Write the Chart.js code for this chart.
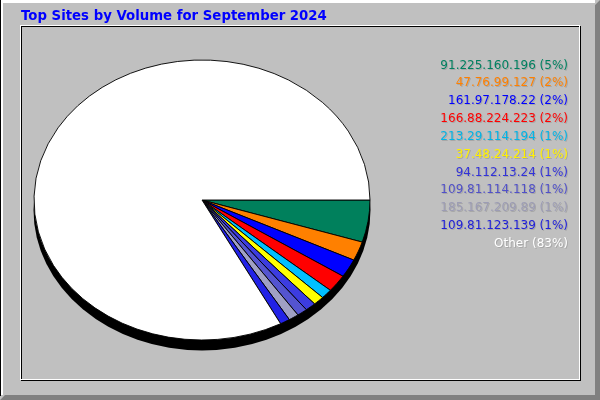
<!DOCTYPE html>
<html><head><meta charset="utf-8">
<script src="https://cdn.jsdelivr.net/npm/chart.js@4/dist/chart.umd.min.js"></script>
<style>html,body{margin:0;padding:0;background:#c0c0c0}canvas{display:block}</style>
</head><body>
<canvas id="c" width="600" height="400"></canvas>
<script>
const titleText = "Top Sites by Volume for September 2024";
const sites = ["91.225.160.196","47.76.99.127","161.97.178.22","166.88.224.223","213.29.114.194","37.48.24.214","94.112.13.24","109.81.114.118","185.167.209.89","109.81.123.139","Other"];
const volumes = [4.86, 2.2, 2.1, 2.0, 1.1, 1.05, 1.02, 1.0, 0.97, 0.95, 82.75];
const percentLabels = ["5%","2%","2%","2%","1%","1%","1%","1%","1%","1%","83%"];
const sliceColors = ["#00805C","#FF8000","#0000FF","#FF0000","#00C0FF","#FFFF00","#3C3CE0","#5454D0","#A0A0C4","#2222E6","#FFFFFF"];
const textColors = ["#008060","#FF8000","#0000FF","#FF0000","#00B4E6","#FFF000","#3232D8","#5050C8","#9C9CB4","#2020D8","#FFFFFF"];

const ELLIPSE_RATIO = 140/168;
const DEPTH = 10;

const framePlugin = {
  id: 'frame',
  beforeDraw(chart) {
    const ctx = chart.ctx;
    const W = chart.width, H = chart.height;
    ctx.save();
    ctx.fillStyle = '#C0C0C0';
    ctx.fillRect(0, 0, W, H);
    ctx.fillStyle = '#808080';
    ctx.beginPath();
    ctx.moveTo(W, 0); ctx.lineTo(W, H); ctx.lineTo(0, H);
    ctx.lineTo(5, H - 5); ctx.lineTo(W - 5, H - 5); ctx.lineTo(W - 5, 5);
    ctx.closePath(); ctx.fill();
    ctx.fillStyle = '#FFFFFF';
    ctx.fillRect(0, 0, W - 5, 3);
    ctx.fillRect(0, 0, 3, H - 5);
    ctx.fillStyle = '#000000';
    ctx.fillRect(0, 0, 1, H - 4);
    ctx.lineWidth = 1;
    ctx.strokeStyle = '#000000';
    ctx.strokeRect(21.5, 26.5, 559, 354);
    ctx.strokeStyle = '#FFFFFF';
    ctx.strokeRect(20.5, 25.5, 559, 354);
    ctx.fillStyle = '#0000FF';
    ctx.font = 'bold 13.3px "DejaVu Sans"';
    ctx.textBaseline = 'alphabetic';
    ctx.textAlign = 'left';
    ctx.fillText(titleText, 21, 19.5);
    ctx.restore();
  }
};

const ellipsePlugin = {
  id: 'ellipse',
  beforeDatasetsDraw(chart) {
    const ctx = chart.ctx;
    const arc = chart.getDatasetMeta(0).data[0];
    const cx = arc.x, cy = arc.y, r = arc.outerRadius;
    ctx.save();
    ctx.fillStyle = '#000000';
    ctx.beginPath();
    ctx.ellipse(cx, cy + DEPTH, r + 0.5, r * ELLIPSE_RATIO + 0.5, 0, 0, Math.PI * 2);
    ctx.fill();
    ctx.translate(cx, cy);
    ctx.scale(1, ELLIPSE_RATIO);
    ctx.translate(-cx, -cy);
  },
  afterDatasetsDraw(chart) {
    chart.ctx.restore();
  }
};

const legendPlugin = {
  id: 'siteLegend',
  afterDraw(chart) {
    const ctx = chart.ctx;
    const labels = chart.data.labels;
    ctx.save();
    ctx.font = '12px "DejaVu Sans"';
    ctx.textAlign = 'right';
    ctx.textBaseline = 'alphabetic';
    labels.forEach((lab, i) => {
      const text = lab + ' (' + percentLabels[i] + ')';
      const y = 68.5 + i * 17.85;
      ctx.fillStyle = 'rgba(110,110,110,0.3)';
      ctx.fillText(text, 569, y + 1);
      ctx.fillStyle = textColors[i];
      ctx.fillText(text, 568, y);
    });
    ctx.restore();
  }
};

new Chart(document.getElementById('c'), {
  type: 'pie',
  data: {
    labels: sites,
    datasets: [{
      data: volumes,
      backgroundColor: sliceColors,
      borderColor: '#000000',
      borderWidth: 1,
      hoverOffset: 0,
      offset: 0,
      radius: 168
    }]
  },
  options: {
    responsive: false,
    devicePixelRatio: 1,
    animation: false,
    rotation: 90,
    layout: { padding: { left: 34, right: 230, top: 32, bottom: 32 } },
    plugins: {
      legend: { display: false },
      tooltip: { enabled: false },
      title: { display: false }
    },
    events: []
  },
  plugins: [framePlugin, ellipsePlugin, legendPlugin]
});
</script>
</body></html>
